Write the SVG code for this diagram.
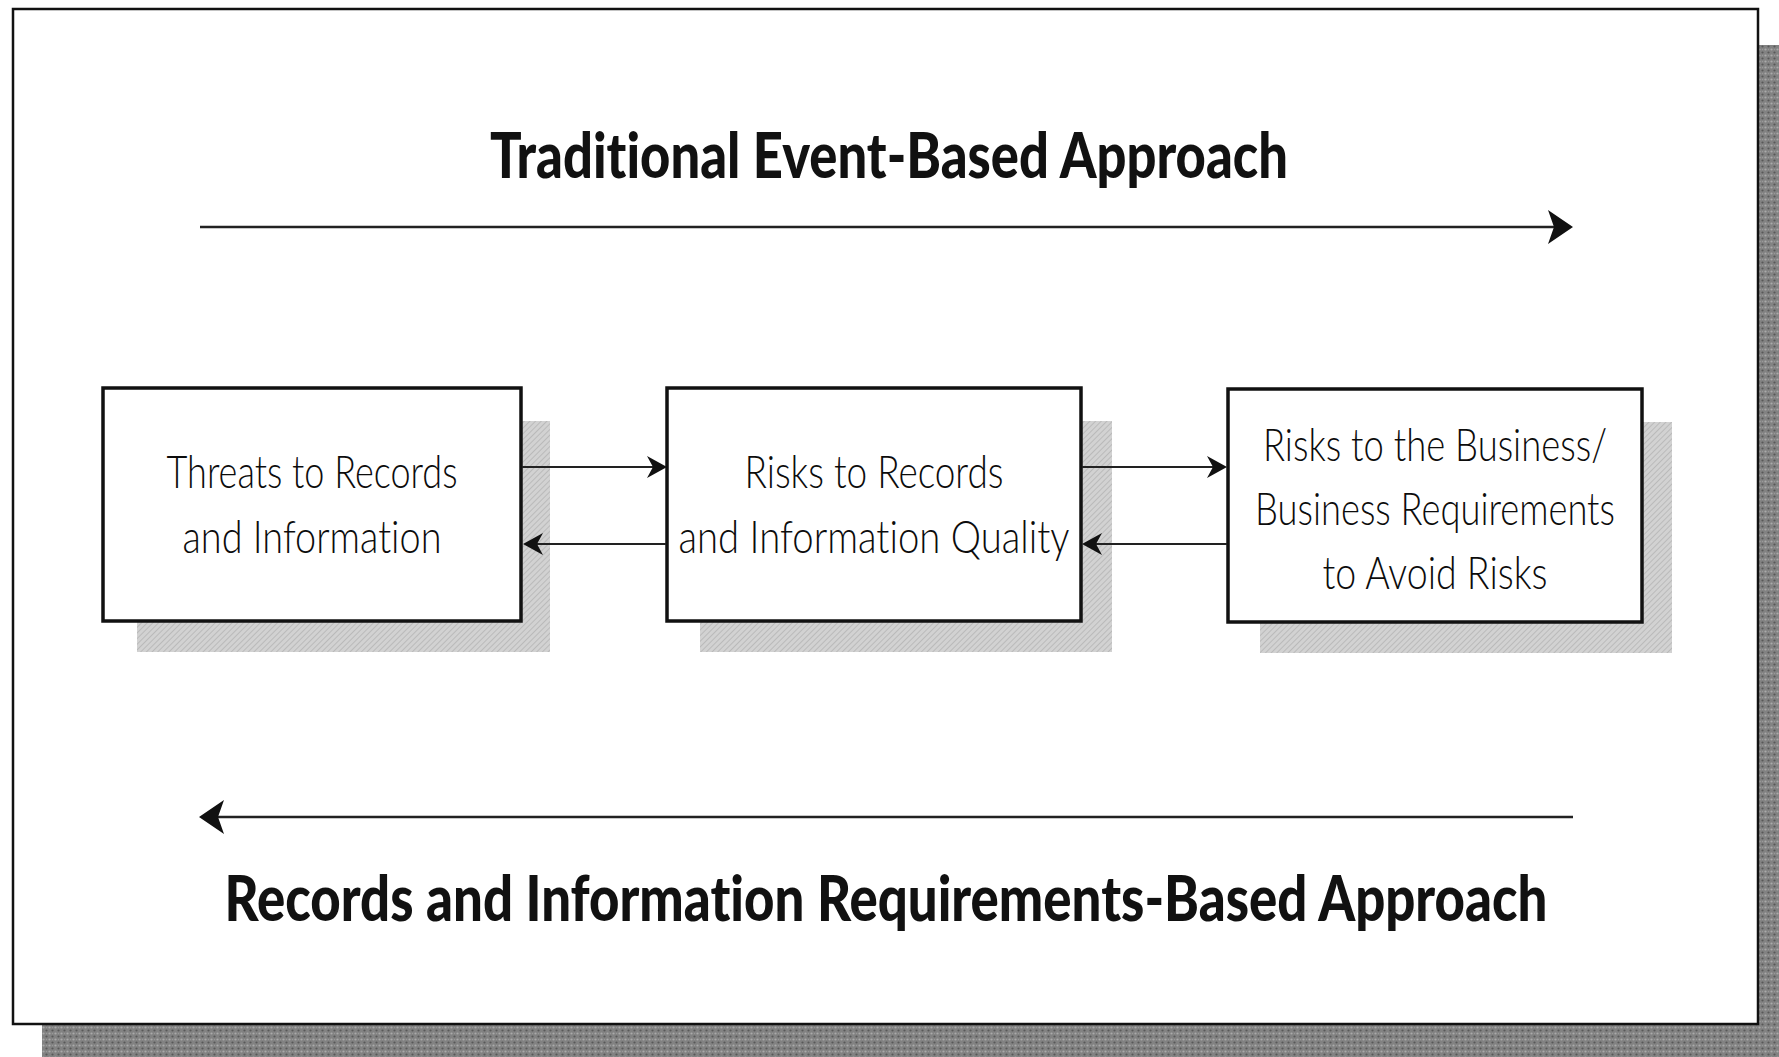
<svg xmlns="http://www.w3.org/2000/svg" width="1779" height="1057" viewBox="0 0 1779 1057">
  <style>
    .frame { fill: #ffffff; stroke: #111111; stroke-width: 2.5; }
    .box { fill: #ffffff; stroke: #111111; stroke-width: 3.5; }
    .box-shadow { fill: url(#hatch); }
    text { font-variant-ligatures: none; font-feature-settings: "liga" 0, "clig" 0; }
    .label { font-family: "Lato", "Liberation Sans", sans-serif; font-weight: 300; font-size: 45px; fill: #0c0c0c; text-anchor: middle; }
    .title { font-family: "Lato", "Liberation Sans", sans-serif; font-weight: 900; font-size: 62px; fill: #111111; text-anchor: middle; }
    .link { fill: none; stroke: #222222; stroke-width: 2.2; }
    .axis { fill: none; stroke: #222222; stroke-width: 2.5; }
  </style>
  <defs>
    <!-- fine hatching for the box drop shadows -->
    <pattern id="hatch" width="4" height="4" patternUnits="userSpaceOnUse" patternTransform="rotate(45)">
      <rect width="4" height="4" fill="#d2d2d2"/>
      <line x1="0" y1="0" x2="0" y2="4" stroke="#b4b4b4" stroke-width="1.6"/>
    </pattern>
    <!-- stippled texture for the panel drop shadow -->
    <pattern id="stipple" width="6" height="6" patternUnits="userSpaceOnUse">
      <rect width="6" height="6" fill="#828282"/>
      <circle cx="1.5" cy="1.5" r="1.1" fill="#aaaaaa"/>
      <circle cx="4.5" cy="4.5" r="1.1" fill="#585858"/>
      <circle cx="4.5" cy="1.5" r="0.7" fill="#999999"/>
    </pattern>
    <marker id="head-sm" markerUnits="userSpaceOnUse" markerWidth="22" markerHeight="24" viewBox="0 -12 22 24" refX="6" refY="0" orient="auto">
      <path d="M20,0 L0,-11 L6,0 L0,11 Z" fill="#111111"/>
    </marker>
    <marker id="head-lg" markerUnits="userSpaceOnUse" markerWidth="28" markerHeight="36" viewBox="0 -18 28 36" refX="6" refY="0" orient="auto">
      <path d="M25,0 L0,-17 L6,0 L0,17 Z" fill="#111111"/>
    </marker>
  </defs>

  <!-- panel with its drop shadow -->
  <rect x="42" y="45" width="1737" height="1012" fill="url(#stipple)"/>
  <rect class="frame" x="13" y="9" width="1745" height="1015"/>

  <!-- headings -->
  <text class="title" x="889" y="178" textLength="798" lengthAdjust="spacingAndGlyphs">Traditional Event-Based Approach</text>
  <text class="title" x="886" y="921" textLength="1323" lengthAdjust="spacingAndGlyphs">Records and Information Requirements-Based Approach</text>

  <!-- nodes -->
  <g id="node-threats">
    <rect class="box-shadow" x="137" y="421" width="413" height="231"/>
    <rect class="box" x="103" y="388" width="418" height="233"/>
    <text class="label" x="312" y="488" textLength="291" lengthAdjust="spacingAndGlyphs">Threats to Records</text>
    <text class="label" x="312" y="553" textLength="259" lengthAdjust="spacingAndGlyphs">and Information</text>
  </g>
  <g id="node-risks-records">
    <rect class="box-shadow" x="700" y="421" width="412" height="231"/>
    <rect class="box" x="667" y="388" width="414" height="233"/>
    <text class="label" x="874" y="488" textLength="259" lengthAdjust="spacingAndGlyphs">Risks to Records</text>
    <text class="label" x="874" y="553" textLength="391" lengthAdjust="spacingAndGlyphs">and Information Quality</text>
  </g>
  <g id="node-risks-business">
    <rect class="box-shadow" x="1260" y="422" width="412" height="231"/>
    <rect class="box" x="1228" y="389" width="414" height="233"/>
    <text class="label" x="1435" y="461" textLength="344" lengthAdjust="spacingAndGlyphs">Risks to the Business/</text>
    <text class="label" x="1435" y="525" textLength="360" lengthAdjust="spacingAndGlyphs">Business Requirements</text>
    <text class="label" x="1435" y="589" textLength="225" lengthAdjust="spacingAndGlyphs">to Avoid Risks</text>
  </g>

  <!-- connectors -->
  <g id="connectors">
    <line class="axis" x1="200" y1="227" x2="1554" y2="227" marker-end="url(#head-lg)"/>
    <line class="axis" x1="1573" y1="817" x2="218" y2="817" marker-end="url(#head-lg)"/>
    <line class="link" x1="522" y1="467" x2="653" y2="467" marker-end="url(#head-sm)"/>
    <line class="link" x1="666" y1="544" x2="537" y2="544" marker-end="url(#head-sm)"/>
    <line class="link" x1="1082" y1="467" x2="1213" y2="467" marker-end="url(#head-sm)"/>
    <line class="link" x1="1227" y1="544" x2="1096" y2="544" marker-end="url(#head-sm)"/>
  </g>
</svg>
